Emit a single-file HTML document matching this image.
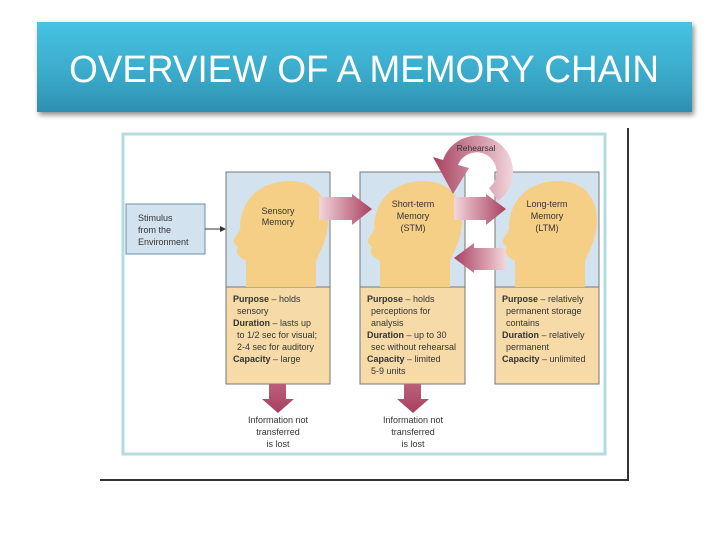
<!DOCTYPE html>
<html><head><meta charset="utf-8"><style>
body{margin:0;width:728px;height:546px;background:#fff;overflow:hidden;position:relative;font-family:"Liberation Sans",sans-serif}
.title{position:absolute;left:37px;top:22px;width:655px;height:90px;background:linear-gradient(#46c3e3,#3aa9c9 60%,#2f8fb0);box-shadow:2px 3px 5px rgba(0,0,0,.45);color:#fff;font-size:38px;line-height:96px;text-align:center}
.title span{display:inline-block;transform:scaleX(0.97)}
</style></head><body>
<div class="title"><span>OVERVIEW OF A MEMORY CHAIN</span></div>
<svg width="728" height="546" style="position:absolute;left:0;top:0" font-family="Liberation Sans, sans-serif">
<defs>
<linearGradient id="ar" x1="0" x2="1"><stop offset="0" stop-color="#f2d6dc"/><stop offset="1" stop-color="#a8405f"/></linearGradient>
<linearGradient id="al" x1="1" x2="0"><stop offset="0" stop-color="#f2d6dc"/><stop offset="1" stop-color="#a8405f"/></linearGradient>
<linearGradient id="ad" x1="0" x2="0" y1="0" y2="1"><stop offset="0" stop-color="#b9607a"/><stop offset="1" stop-color="#a8405f"/></linearGradient>
<path id="head" d="M14 110 L14 84 C8 80 2 78 6 70 L2 66 C0 60 10 56 8 48 C10 20 30 4 58 4 C84 4 96 22 96 44 C96 62 88 74 84 84 L84 110 Z"/>
</defs>
<line x1="628" y1="128" x2="628" y2="480" stroke="#333" stroke-width="2"/>
<line x1="100" y1="480" x2="629" y2="480" stroke="#333" stroke-width="2"/>
<rect x="123" y="134" width="482" height="320" fill="#fff" stroke="#b4dce0" stroke-width="3"/>
<rect x="126" y="204" width="79" height="50" fill="#d2e3ef" stroke="#6a8fa8" stroke-width="1"/>
<text font-size="9" fill="#333"><tspan x="138" y="221">Stimulus</tspan><tspan x="138" y="233">from the</tspan><tspan x="138" y="245">Environment</tspan></text>
<line x1="205" y1="229" x2="222" y2="229" stroke="#333"/><path d="M226 229 L220 226 L220 232Z" fill="#333"/>
<g stroke="#777" stroke-width="1">
<rect x="226" y="172" width="104" height="115" fill="#d2e3ef"/><rect x="226" y="287" width="104" height="97" fill="#f6dba8"/>
<rect x="360" y="172" width="105" height="115" fill="#d2e3ef"/><rect x="360" y="287" width="105" height="97" fill="#f6dba8"/>
<rect x="495" y="172" width="104" height="115" fill="#d2e3ef"/><rect x="495" y="287" width="104" height="97" fill="#f6dba8"/>
</g>
<g fill="#f6cf86">
<use href="#head" transform="translate(232,177)"/>
<use href="#head" transform="translate(366,177)"/>
<use href="#head" transform="translate(501,177)"/>
</g>
<g font-size="9" fill="#333" text-anchor="middle">
<text x="278" y="214">Sensory</text><text x="278" y="225">Memory</text>
<text x="413" y="207">Short-term</text><text x="413" y="219">Memory</text><text x="413" y="231">(STM)</text>
<text x="547" y="207">Long-term</text><text x="547" y="219">Memory</text><text x="547" y="231">(LTM)</text>
<text x="278" y="423">Information not</text><text x="278" y="435">transferred</text><text x="278" y="447">is lost</text>
<text x="413" y="423">Information not</text><text x="413" y="435">transferred</text><text x="413" y="447">is lost</text>
</g>
<g font-size="9" fill="#333">
<text x="233" y="302"><tspan font-weight="bold">Purpose</tspan> – holds</text>
<text x="237" y="314">sensory</text>
<text x="233" y="326"><tspan font-weight="bold">Duration</tspan> – lasts up</text>
<text x="237" y="338">to 1/2 sec for visual;</text>
<text x="237" y="350">2-4 sec for auditory</text>
<text x="233" y="362"><tspan font-weight="bold">Capacity</tspan> – large</text>
<text x="367" y="302"><tspan font-weight="bold">Purpose</tspan> – holds</text>
<text x="371" y="314">perceptions for</text>
<text x="371" y="326">analysis</text>
<text x="367" y="338"><tspan font-weight="bold">Duration</tspan> – up to 30</text>
<text x="371" y="350">sec without rehearsal</text>
<text x="367" y="362"><tspan font-weight="bold">Capacity</tspan> – limited</text>
<text x="371" y="374">5-9 units</text>
<text x="502" y="302"><tspan font-weight="bold">Purpose</tspan> – relatively</text>
<text x="506" y="314">permanent storage</text>
<text x="506" y="326">contains</text>
<text x="502" y="338"><tspan font-weight="bold">Duration</tspan> – relatively</text>
<text x="506" y="350">permanent</text>
<text x="502" y="362"><tspan font-weight="bold">Capacity</tspan> – unlimited</text>
</g>
<path d="M319 197 L352 197 L352 194 L372 209 L352 225 L352 220 L319 220Z" fill="url(#ar)"/>
<path d="M454 197 L486 197 L486 194 L506 209 L486 225 L486 220 L454 220Z" fill="url(#ar)"/>
<path d="M506 248 L474 248 L474 243 L454 258 L474 273 L474 270 L506 270Z" fill="url(#al)"/>
<path d="M269 384 L286 384 L286 399 L294 399 L278 413 L262 399 L269 399Z" fill="url(#ad)"/>
<path d="M404 384 L421 384 L421 399 L429 399 L413 413 L397 399 L404 399Z" fill="url(#ad)"/>
<path d="M498 201 A36 36 0 1 0 443 160 L433 157 L453 194 L469 168 L458 165 A20 20 0 1 1 489 188 Z" fill="url(#al)"/>
<text x="476" y="151" font-size="8.5" fill="#333" text-anchor="middle">Rehearsal</text>
</svg>
</body></html>
